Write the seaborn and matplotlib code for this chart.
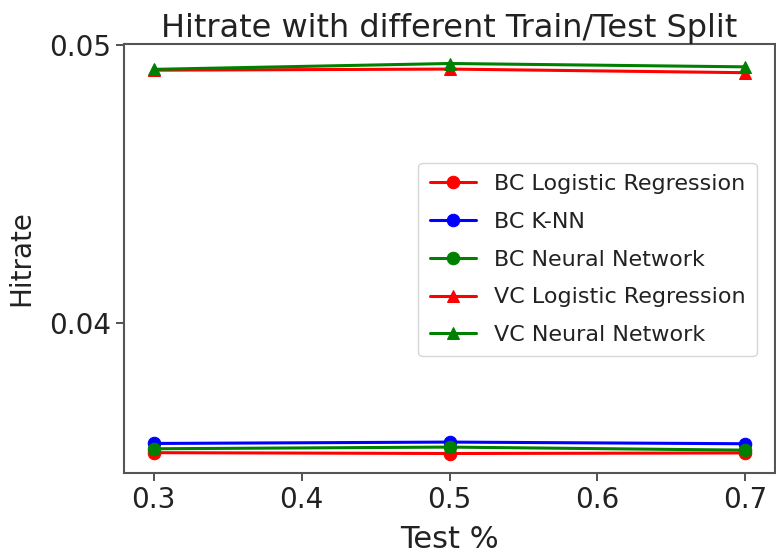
import matplotlib
matplotlib.use("Agg")
import matplotlib.pyplot as plt
import seaborn as sns
import pandas as pd

# ---- data ----
test_pct = [0.3, 0.5, 0.7]
bc_logreg = [0.03535, 0.03532, 0.03534]
bc_knn = [0.03568, 0.03573, 0.03567]
bc_nn = [0.03549, 0.03555, 0.03544]
vc_logreg = [0.04908, 0.04912, 0.04899]
vc_nn = [0.04911, 0.04932, 0.04920]

series_names = ["BC Logistic Regression", "BC K-NN", "BC Neural Network",
                "VC Logistic Regression", "VC Neural Network"]
series_values = [bc_logreg, bc_knn, bc_nn, vc_logreg, vc_nn]
series_colors = ["#ff0000", "#0000ff", "#008000", "#ff0000", "#008000"]
series_markers = ["o", "o", "o", "^", "^"]

rows = []
for name, vals in zip(series_names, series_values):
    for x, v in zip(test_pct, vals):
        rows.append({"Test %": x, "Hitrate": v, "Series": name})
df = pd.DataFrame(rows)

sns.set_theme(style="ticks")
plt.rcParams["font.family"] = ["DejaVu Sans"]

fig = plt.figure(figsize=(7.76, 5.57), dpi=100)
ax = fig.add_axes([124 / 776, (557 - 473) / 557, 651 / 776, 429 / 557])

for name, color, marker in zip(series_names, series_colors, series_markers):
    sub = df[df["Series"] == name]
    sns.lineplot(data=sub, x="Test %", y="Hitrate", ax=ax, color=color,
                 marker=marker, markersize=9, markeredgecolor=color,
                 linewidth=2.2, label=name, estimator=None, errorbar=None)

ax.set_xticks([0.3, 0.4, 0.5, 0.6, 0.7])
ax.set_yticks([0.04, 0.05])
ax.set_xlim(0.28, 0.72)
ax.set_ylim(0.03462, 0.05002)
ax.tick_params(labelsize=20, length=6, width=1.2, colors="#333333", labelcolor="#222222")
for sp in ax.spines.values():
    sp.set_visible(True)
    sp.set_color("#555555")
    sp.set_linewidth(1.5)

ax.set_title("Hitrate with different Train/Test Split", fontsize=23, color="#222222", pad=5)
ax.set_xlabel("Test %", fontsize=22, color="#222222", labelpad=8)
ax.set_ylabel("Hitrate", fontsize=20, color="#222222", labelpad=10)

leg = ax.legend(loc="upper right", bbox_to_anchor=(0.972, 0.7226), borderaxespad=0,
                fontsize=16, frameon=True, labelspacing=0.8, handlelength=2.1,
                borderpad=0.5)
leg.get_frame().set_edgecolor("#cccccc")
for t in leg.get_texts():
    t.set_color("#222222")

fig.savefig("out.png", dpi=100)
